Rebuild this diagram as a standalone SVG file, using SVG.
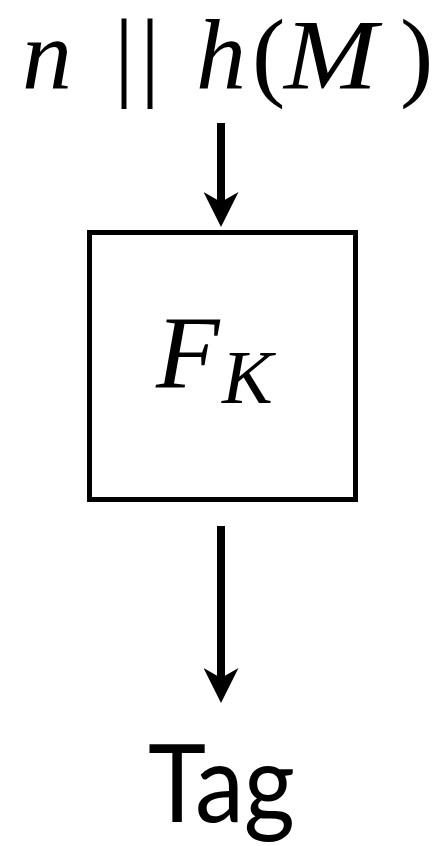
<svg xmlns="http://www.w3.org/2000/svg" width="442" height="846" viewBox="0 0 442 846">
<style>
.math{font-family:"Liberation Serif","Times New Roman",serif;font-style:italic;fill:#000}
.up{font-family:"Liberation Serif","Times New Roman",serif;fill:#000}
.sans{font-family:Lato,"Open Sans","Liberation Sans",sans-serif;fill:#000}
.shaft{stroke:#000;stroke-width:8;fill:none}
.box{fill:#fff;stroke:#000;stroke-width:5}
</style>
<defs>
<marker id="ah" markerUnits="userSpaceOnUse" viewBox="0 0 35 35" markerWidth="35" markerHeight="35" refX="13" refY="17.5" orient="auto">
<path d="M0,0 L35,17.5 L0,35 L10,17.5 Z" fill="#000"/>
</marker>
</defs>
<g id="input">
<text class="math" x="22" y="88" font-size="100">n</text>
<text class="up" x="114" y="88" font-size="100">|</text>
<text class="up" x="140" y="88" font-size="100">|</text>
<text class="math" x="196" y="88" font-size="100">h</text>
<text class="up" x="252" y="88" font-size="100">(</text>
<text class="math" transform="translate(284,88) scale(1.12,1)" x="0" y="0" font-size="100">M</text>
<text class="up" x="400" y="88" font-size="100">)</text>
</g>
<g id="fk">
<rect class="box" x="89.5" y="232.5" width="266" height="267"/>
<text class="math" x="156" y="388" font-size="104">F</text>
<text class="math" x="222" y="403" font-size="76">K</text>
</g>
<g id="tag">
<text class="sans" x="148" y="822" font-size="108" textLength="147" lengthAdjust="spacingAndGlyphs">Tag</text>
</g>
<g id="connectors">
<line class="shaft" x1="221" y1="123" x2="221" y2="205" marker-end="url(#ah)"/>
<line class="shaft" x1="221" y1="526" x2="221" y2="681" marker-end="url(#ah)"/>
</g>
</svg>
